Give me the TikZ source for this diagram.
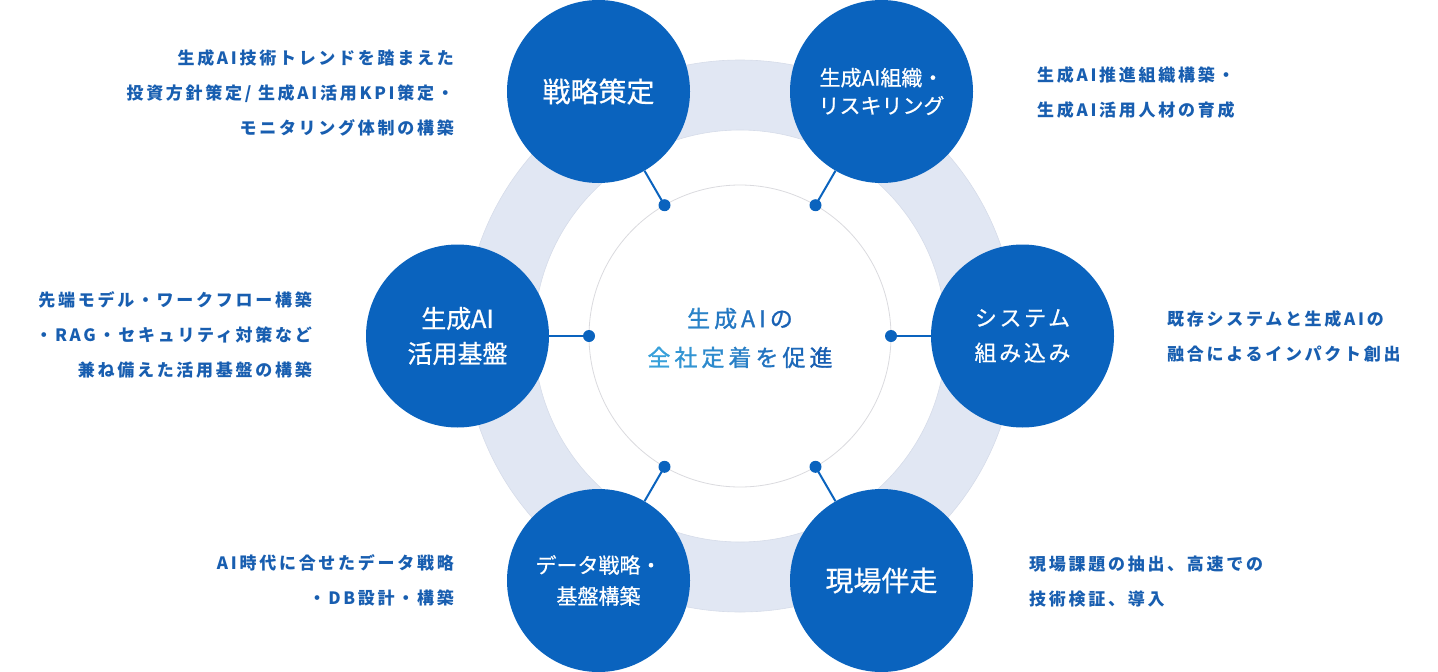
\documentclass[tikz,border=0pt]{standalone}
\usepackage{fontspec}
\newfontfamily\sidefont[LetterSpace=16]{Noto Sans CJK JP}
\newfontfamily\circfont[FakeBold=0.6]{Noto Sans CJK JP}
\newfontfamily\circfontsp[FakeBold=0.6,LetterSpace=12]{Noto Sans CJK JP}
\newfontfamily\centerfont[FakeBold=1.2]{Noto Sans CJK JP}
\definecolor{mainblue}{RGB}{10,99,190}
\definecolor{textblue}{RGB}{24,94,176}
\definecolor{ringcol}{RGB}{225,231,243}
\definecolor{ringedge}{RGB}{214,220,233}
\definecolor{thincol}{RGB}{218,218,222}
\definecolor{gradlight}{RGB}{58,164,220}
\definecolor{graddark}{RGB}{22,90,176}
\newcommand{\gc}[2]{\textcolor{graddark!#1!gradlight}{#2}\kern4pt}
\tikzset{
  bigcirc/.style={circle, fill=mainblue, minimum size=183pt, inner sep=0pt, text=white, align=center},
  dotnode/.style={circle, fill=mainblue, minimum size=12pt, inner sep=0pt},
  conn/.style={draw=mainblue, line width=2pt},
  sidetext/.style={text=textblue, inner sep=0pt, font=\sidefont\bfseries\fontsize{17}{35}\selectfont},
}
\begin{document}
\begin{tikzpicture}[x=1pt,y=-1pt]
\useasboundingbox (0,0) rectangle (1438,672);
\coordinate (ctr) at (740,336);
% ring
\fill[ringcol, even odd rule] (ctr) circle (276pt) (ctr) circle (206pt);
\draw[ringedge, line width=0.6pt] (ctr) circle (276pt);
\draw[ringedge, line width=0.6pt] (ctr) circle (206pt);
% thin inner circle
\draw[thincol, line width=0.8pt] (ctr) circle (151pt);
% centre text
\node[align=center, inner sep=0pt, font=\centerfont\fontsize{23}{39}\selectfont] (title) at (742,338)
  {\gc{45}{生}\gc{60}{成}\gc{70}{A}\gc{76}{I}\gc{90}{の}\\
   \gc{5}{全}\gc{20}{社}\gc{35}{定}\gc{50}{着}\gc{65}{を}\gc{80}{促}\gc{95}{進}};
% dots
\node[dotnode] (d1) at (664.5,205.2) {};
\node[dotnode] (d2) at (815.5,205.2) {};
\node[dotnode] (d3) at (891,336) {};
\node[dotnode] (d4) at (815.5,466.8) {};
\node[dotnode] (d5) at (664.5,466.8) {};
\node[dotnode] (d6) at (589,336) {};
% circles
\node[bigcirc, font=\circfont\fontsize{28}{35}\selectfont] (c1) at (598.5,91.5) {戦略策定};
\node[bigcirc, font=\circfont\fontsize{21}{28}\selectfont] (c2) at (881.5,91.5) {生成AI組織・\\リスキリング};
\node[bigcirc, font=\circfontsp\fontsize{22}{35}\selectfont] (c3) at (1022.5,336) {システム\\組み込み};
\node[bigcirc, font=\circfont\fontsize{28}{35}\selectfont] (c4) at (881.5,580.5) {現場伴走};
\node[bigcirc, font=\circfont\fontsize{21}{31}\selectfont] (c5) at (598.5,580.5) {データ戦略・\\基盤構築};
\node[bigcirc, font=\circfont\fontsize{25}{35}\selectfont] (c6) at (457.5,336) {生成AI\\活用基盤};
% connectors
\draw[conn] (d1.center) -- (c1);
\draw[conn] (d2.center) -- (c2);
\draw[conn] (d3.center) -- (c3);
\draw[conn] (d4.center) -- (c4);
\draw[conn] (d5.center) -- (c5);
\draw[conn] (d6.center) -- (c6);
% side texts
\node[sidetext, anchor=east, align=right] (t1) at (454,93) {生成AI技術トレンドを踏まえた\\投資方針策定/ 生成AI活用KPI策定・\\モニタリング体制の構築};
\node[sidetext, anchor=west, align=left] (t2) at (1037,92.5) {生成AI推進組織構築・\\生成AI活用人材の育成};
\node[sidetext, anchor=west, align=left] (t3) at (1167,336.5) {既存システムと生成AIの\\融合によるインパクト創出};
\node[sidetext, anchor=west, align=left] (t4) at (1029,581.5) {現場課題の抽出、高速での\\技術検証、導入};
\node[sidetext, anchor=east, align=right] (t5) at (454,580.5) {AI時代に合せたデータ戦略\\・DB設計・構築};
\node[sidetext, anchor=east, align=right] (t6) at (312,335) {先端モデル・ワークフロー構築\\・RAG・セキュリティ対策など\\兼ね備えた活用基盤の構築};
\end{tikzpicture}
\end{document}
